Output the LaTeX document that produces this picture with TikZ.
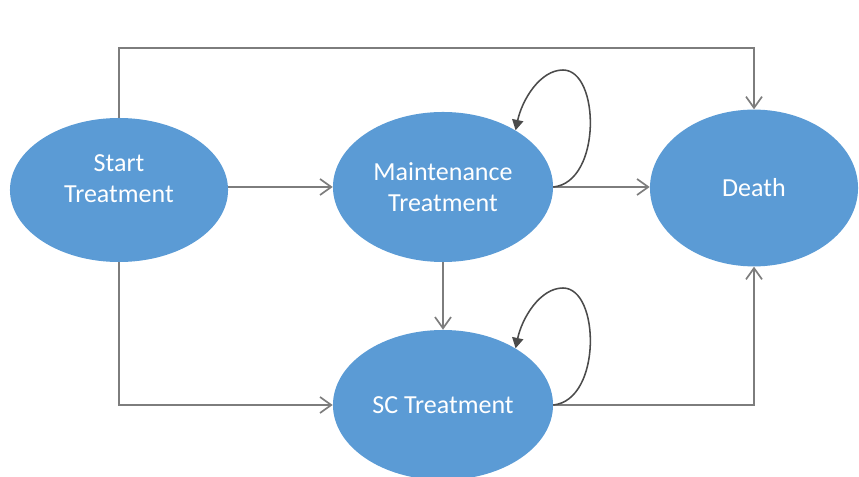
\documentclass[tikz,border=0pt]{standalone}
\usepackage{fontspec}
\setmainfont{Carlito}
\usetikzlibrary{arrows.meta,shapes.geometric}
\definecolor{stateblue}{RGB}{91,155,213}
\definecolor{wire}{RGB}{125,125,125}
\definecolor{loopink}{RGB}{75,75,75}
\tikzset{
  state/.style={ellipse,fill=stateblue,draw=none,text=white,inner sep=0pt,
    minimum width=#1,align=center,font=\fontsize{18.5}{22.5}\selectfont},
  state/.default=5.5cm,
  move/.style={-{Straight Barb[length=2.8mm,width=4mm]},line width=1.2pt,draw=wire},
  selfloop/.style={-{Triangle[length=2.6mm,width=2.8mm]},line width=1.1pt,draw=loopink},
}
\begin{document}
\begin{tikzpicture}[x=0.025cm,y=-0.025cm]
  \useasboundingbox (0,0) rectangle (859,477);
  % states
  \node[state=5.45cm,minimum height=3.6cm] (start) at (119,190) {Start\\Treatment\\[-6pt]};
  \node[state,minimum height=3.75cm] (maint) at (443,187) {Maintenance\\Treatment};
  \node[state,minimum height=3.75cm] (sc) at (443,405) {SC Treatment};
  \node[state=5.2cm,minimum height=3.92cm] (death) at (754,188) {Death};
  % transitions
  \draw[move] (start.east |- maint) -- (maint.west);
  \draw[move] (maint.east) -- (death.west |- maint.east);
  \draw[move] (maint.south) -- (sc.north);
  \draw[move] (start.north) -- (start.north |- 0,48) -| (death.north);
  \draw[move] (start.south) |- (sc.west);
  \draw[move] (sc.east) -| (death.south);
  % stay in state
  \draw[selfloop] (maint.east) .. controls (602,182) and (600,70) .. (563,70)
    .. controls (540,70) and (522,100) .. (maint.38);
  \draw[selfloop] (sc.east) .. controls (602,400) and (600,288) .. (563,288)
    .. controls (540,288) and (522,318) .. (sc.38);
\end{tikzpicture}
\end{document}
